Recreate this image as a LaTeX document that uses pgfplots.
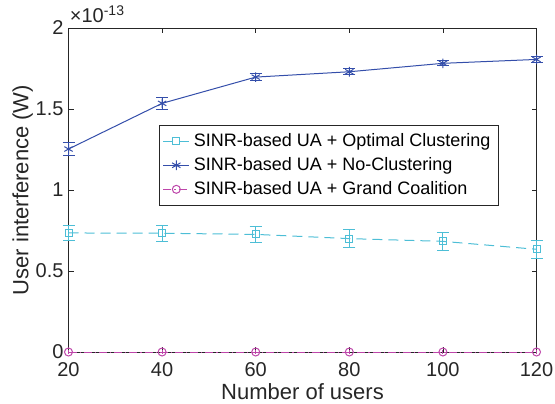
\documentclass[border=0pt]{standalone}
\usepackage{fontspec}
\setmainfont{Liberation Sans}
\usepackage{pgfplots}
\pgfplotsset{compat=1.18}
\definecolor{mcyan}{RGB}{77,190,214}
\definecolor{mblue}{RGB}{52,78,170}
\definecolor{mmag}{RGB}{190,70,170}
\definecolor{axgray}{RGB}{38,38,38}
\begin{document}
\begin{tikzpicture}
\begin{axis}[
  name=ax,
  scale only axis,
  width=234pt, height=162pt,
  xmin=20, xmax=120, ymin=0, ymax=2,
  xtick={20,40,...,120},
  ytick={0,0.5,1,1.5,2},
  yticklabels={0,0.5,1,1.5,2},
  scaled y ticks=false,
  tick align=inside,
  major tick length=2.5pt,
  axis line style={axgray, line width=0.4pt},
  every tick/.style={axgray, line width=0.4pt},
  tick label style={font=\fontsize{10}{12}\selectfont, text=axgray, inner sep=1pt},
  xticklabel style={yshift=-4.3pt},
  yticklabel style={xshift=-1.3pt},
  /pgf/number format/assume math mode=true,
  xlabel={Number of users},
  ylabel={User interference (W)},
  label style={font=\fontsize{11}{13}\selectfont, text=axgray, inner sep=1pt},
  xlabel style={at={(axis description cs:0.5,0)}, anchor=center, yshift=-20pt},
  ylabel style={at={(axis description cs:-0.098,0.5)}, anchor=center},
  legend style={at={(0.193,0.70)}, anchor=north west, draw=axgray, line width=0.4pt,
    font=\fontsize{9}{11}\selectfont, text=black, row sep=0pt, inner sep=1.8pt},
  legend cell align=left,
  legend image code/.code={\draw[mark repeat=2,mark phase=2] plot coordinates {(0pt,0pt)(6.5pt,0pt)(13pt,0pt)};},
  clip=false,
]
\addplot[mcyan, line width=0.5pt, dash pattern=on 5pt off 3pt, mark=square, mark size=1.75pt, mark options={solid},
  error bars/.cd, y dir=both, y explicit, error bar style={solid, line width=0.5pt},
  error mark options={rotate=90, mark size=3pt, line width=0.5pt}]
  coordinates {
  (20,0.735) +- (0,0.045)
  (40,0.733) +- (0,0.05)
  (60,0.726) +- (0,0.05)
  (80,0.700) +- (0,0.055)
  (100,0.683) +- (0,0.055)
  (120,0.634) +- (0,0.057)
  };
\addlegendentry{SINR-based UA + Optimal Clustering}
\addplot[mblue, line width=0.5pt, mark=asterisk, mark size=2.4pt,
  error bars/.cd, y dir=both, y explicit, error bar style={line width=0.5pt},
  error mark options={rotate=90, mark size=3pt, line width=0.5pt}]
  coordinates {
  (20,1.253) +- (0,0.042)
  (40,1.535) +- (0,0.037)
  (60,1.697) +- (0,0.022)
  (80,1.730) +- (0,0.020)
  (100,1.782) +- (0,0.016)
  (120,1.806) +- (0,0.016)
  };
\addlegendentry{SINR-based UA + No-Clustering}
\addplot[mmag, line width=0.5pt, dash pattern=on 4pt off 1.5pt on 0.6pt off 1.5pt, mark=o, mark size=2pt, mark options={solid},
  error bars/.cd, y dir=both, y explicit, error bar style={solid, line width=0.5pt},
  error mark options={rotate=90, mark size=0pt}]
  coordinates {
  (20,0) +- (0,0.012)
  (40,0) +- (0,0.012)
  (60,0) +- (0,0.012)
  (80,0) +- (0,0.012)
  (100,0) +- (0,0.012)
  (120,0) +- (0,0.012)
  };
\addlegendentry{SINR-based UA + Grand Coalition}
\node[anchor=south west, inner sep=0pt, text=axgray, font=\fontsize{10}{12}\selectfont] at (rel axis cs:0,1) [yshift=2.5pt, xshift=0.5pt] {×10\textsuperscript{-13}};
\end{axis}
\pgfresetboundingbox
\path (ax.south west) ++(-34.25pt,-25.5pt) rectangle ++(277.5pt,201.5pt);
\end{tikzpicture}
\end{document}
